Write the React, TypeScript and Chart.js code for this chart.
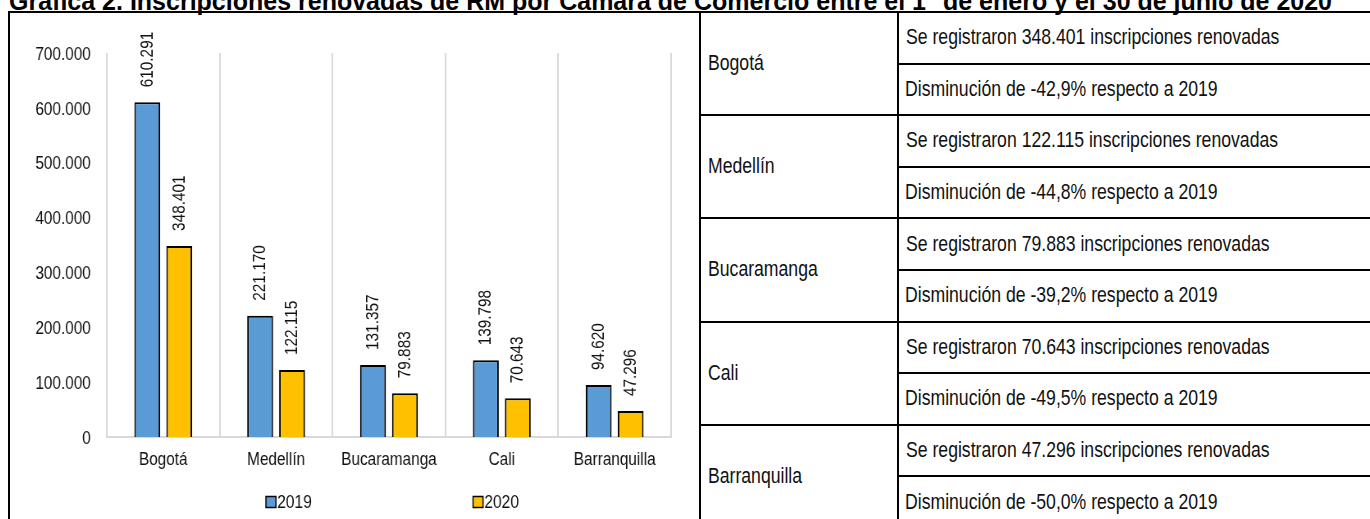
import React, { useEffect, useRef } from "react";
import { Chart, registerables } from "chart.js";

Chart.register(...registerables);

const titleText =
  "Gráfica 2. Inscripciones renovadas de RM por Cámara de Comercio entre el 1° de enero y el 30 de junio de 2020";
const categories = ["Bogotá", "Medellín", "Bucaramanga", "Cali", "Barranquilla"];
const seriesLabels = ["2019", "2020"];
const values2019 = [610291, 221170, 131357, 139798, 94620];
const values2020 = [348401, 122115, 79883, 70643, 47296];
const seriesColors = ["#5B9BD5", "#FFC000"];
const yMax = 700000;
const yStep = 100000;

const FONT = "'Liberation Sans', Arial, sans-serif";
const TEXT = "#111111";
const NARROW = 0.82; // Arial Narrow width ratio
const CANVAS_PAGE_W = 689;
const CANVAS_W = 840;
const CANVAS_H = 506;
const SX = CANVAS_PAGE_W / CANVAS_W; // CSS horizontal compression of the canvas

const fmt = (n: number) => String(Math.round(n)).replace(/\B(?=(\d{3})+(?!\d))/g, ".");
const pct = (a: number, b: number) => ((b / a - 1) * 100).toFixed(1).replace(".", ",") + "%";

const dataLabelPlugin = {
  id: "barValueLabels",
  afterDatasetsDraw(chart: any) {
    const ctx = chart.ctx;
    ctx.save();
    ctx.font = `18.7px ${FONT}`;
    ctx.fillStyle = TEXT;
    chart.data.datasets.forEach((ds: any, i: number) => {
      const meta = chart.getDatasetMeta(i);
      meta.data.forEach((bar: any, j: number) => {
        const p = bar.getProps(["x", "y"], true);
        ctx.save();
        ctx.translate(p.x, p.y - 15);
        ctx.scale(1 / SX, 1);
        ctx.rotate(-Math.PI / 2);
        ctx.scale(NARROW, 1);
        ctx.textAlign = "left";
        ctx.textBaseline = "middle";
        ctx.fillText(fmt(ds.data[j]), 0, 0);
        ctx.restore();
      });
    });
    ctx.restore();
  },
};

const legendPlugin = {
  id: "customLegend",
  afterDraw(chart: any) {
    const ctx = chart.ctx;
    const area = chart.chartArea;
    const cx = (area.left + area.right) / 2;
    const y = area.bottom + 65;
    const boxW = 10 / SX;
    ctx.save();
    ctx.font = `19px ${FONT}`;
    ctx.textBaseline = "middle";
    ctx.textAlign = "left";
    chart.data.datasets.forEach((ds: any, i: number) => {
      const bx = cx - 150 + i * 252.5;
      ctx.fillStyle = ds.backgroundColor;
      ctx.fillRect(bx, y - 5.5, boxW, 11);
      ctx.strokeStyle = "#000";
      ctx.lineWidth = 1.5;
      ctx.strokeRect(bx, y - 5.5, boxW, 11);
      ctx.fillStyle = TEXT;
      ctx.fillText(ds.label, bx + boxW + 1.5, y + 1);
    });
    ctx.restore();
  },
};

function BarChart() {
  const ref = useRef<HTMLCanvasElement | null>(null);
  useEffect(() => {
    if (!ref.current) return;
    const chart = new Chart(ref.current, {
      type: "bar",
      data: {
        labels: categories,
        datasets: [
          {
            label: seriesLabels[0],
            data: values2019,
            backgroundColor: seriesColors[0],
            borderColor: "#000",
            borderWidth: 2,
            categoryPercentage: 0.566,
            barPercentage: 0.81,
          },
          {
            label: seriesLabels[1],
            data: values2020,
            backgroundColor: seriesColors[1],
            borderColor: "#000",
            borderWidth: 2,
            categoryPercentage: 0.566,
            barPercentage: 0.81,
          },
        ],
      },
      options: {
        animation: false,
        responsive: false,
        devicePixelRatio: 1,
        layout: { padding: { top: 40, right: 34, bottom: 0, left: 0 } },
        plugins: {
          legend: { display: false },
          tooltip: { enabled: false },
          title: { display: false },
        },
        scales: {
          x: {
            grid: { color: "#D9D9D9", lineWidth: 2, offset: true, drawTicks: false },
            border: { display: true, color: "#D9D9D9", width: 2 },
            ticks: {
              color: TEXT,
              font: { family: FONT, size: 18.7 },
              padding: 12,
              maxRotation: 0,
              autoSkip: false,
            },
            afterFit: (scale: any) => {
              scale.height = 82;
            },
          },
          y: {
            min: 0,
            max: yMax,
            grid: { display: false, drawTicks: false },
            border: { display: false },
            ticks: {
              stepSize: yStep,
              color: TEXT,
              font: { family: FONT, size: 18.7 },
              padding: 19.5,
              labelOffset: 1.5,
              callback: (v: any) => fmt(Number(v)),
            },
            afterFit: (scale: any) => {
              scale.width = 118;
            },
          },
        },
      },
      plugins: [dataLabelPlugin, legendPlugin],
    });
    return () => chart.destroy();
  }, []);
  return (
    <canvas
      ref={ref}
      width={CANVAS_W}
      height={CANVAS_H}
      style={{
        position: "absolute",
        left: 10,
        top: 13,
        width: CANVAS_W,
        height: CANVAS_H,
        transform: `scaleX(${SX})`,
        transformOrigin: "0 0",
      }}
    />
  );
}

const line = (style: React.CSSProperties) => (
  <div style={{ position: "absolute", background: "#000", ...style }} />
);

export default function App() {
  const rowH = 51.6;
  const top0 = 12;
  const lines: React.ReactNode[] = [];
  for (let i = 0; i <= 10; i++) {
    const y = top0 + i * rowH;
    lines.push(
      <div
        key={"h" + i}
        style={{
          position: "absolute",
          background: "#000",
          left: i === 0 ? 8 : i % 2 === 0 ? 700 : 898,
          top: Math.round(y - 1),
          width: 1400,
          height: 2,
        }}
      />
    );
  }
  const cell: React.CSSProperties = {
    position: "absolute",
    display: "flex",
    alignItems: "center",
    fontFamily: FONT,
    fontSize: 21.5,
    color: TEXT,
    whiteSpace: "nowrap",
  };
  const narrow: React.CSSProperties = {
    display: "inline-block",
    transform: `scaleX(${NARROW})`,
    transformOrigin: "0 50%",
  };
  return (
    <div
      style={{
        position: "absolute",
        left: 0,
        top: 0,
        width: 1370,
        height: 519,
        overflow: "hidden",
        background: "#fff",
      }}
    >
      <div
        style={{
          position: "absolute",
          left: 9,
          top: -11,
          fontFamily: FONT,
          fontWeight: "bold",
          fontSize: 25,
          lineHeight: "25px",
          color: "#000",
          whiteSpace: "nowrap",
        }}
      >
        {titleText}
      </div>
      <BarChart />
      {line({ left: 8, top: 11, width: 2, height: 520 })}
      {line({ left: 699, top: 11, width: 2, height: 520 })}
      {line({ left: 897, top: 11, width: 2, height: 520 })}
      {lines}
      {categories.map((c, i) => (
        <React.Fragment key={c}>
          <div style={{ ...cell, left: 708, top: top0 + i * 2 * rowH, height: 2 * rowH }}>
            <span style={narrow}>{c}</span>
          </div>
          <div style={{ ...cell, left: 906, top: top0 + i * 2 * rowH, height: rowH }}>
            <span style={narrow}>{`Se registraron ${fmt(values2020[i])} inscripciones renovadas`}</span>
          </div>
          <div style={{ ...cell, left: 905, top: top0 + (i * 2 + 1) * rowH, height: rowH }}>
            <span style={narrow}>{`Disminución de ${pct(values2019[i], values2020[i])} respecto a 2019`}</span>
          </div>
        </React.Fragment>
      ))}
    </div>
  );
}
